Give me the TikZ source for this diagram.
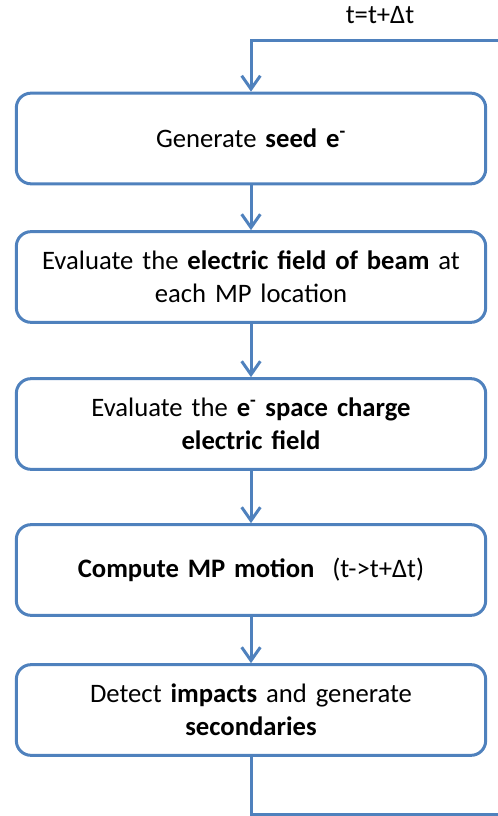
\documentclass[tikz,border=0pt]{standalone}
\usepackage{fontspec}
\setmainfont{Carlito}
\usetikzlibrary{arrows.meta}
\definecolor{flowblue}{RGB}{79,129,189}

\begin{document}
\begin{tikzpicture}[x = 0.75pt, y = -0.75pt,
        stage/.style = {draw = flowblue, line width = 2.25pt, rounded corners = 11pt,
            minimum width = 352pt, minimum height = 68pt, text width = 340pt,
            align = center, inner sep = 0pt, font = \fontsize{20}{24.5}\selectfont},
        flow/.style = {draw = flowblue, line width = 2.25pt,
            -{Straight Barb[length = 10pt, width = 14pt]}}]
    \useasboundingbox (0,0) rectangle (498,816);

    % Draw the steps of the loop:
    \node [stage] (seed) at (251,138.5) {Generate \textbf{seed e\textsuperscript{-}}};
    \node [stage] (beamfield) at (251,277) {Evaluate the \textbf{electric field of beam} at\\each MP location};
    \node [stage] (spacecharge) at (251,424) {Evaluate the \textbf{e\textsuperscript{-} space charge}\\\textbf{electric field}};
    \node [stage] (motion) at (251,570) {\textbf{Compute MP motion}\ \ (t->t+Δt)};
    \node [stage] (detect) at (251,710) {Detect \textbf{impacts} and generate\\\textbf{secondaries}};

    % Draw the arrows between the steps:
    \foreach \from/\to in {seed/beamfield, beamfield/spacecharge, spacecharge/motion, motion/detect}
        \draw [flow] (\from.south) -- (\to.north);

    % Draw the time step loop:
    \coordinate (loopbottom) at (500,814);
    \coordinate (looptop) at (500,41);
    \draw [flow] (detect.south) |- (loopbottom) -- (looptop) -| (seed.north);
    \node [font = \fontsize{20}{24.5}\selectfont] (tstep) at (380,15) {t=t+Δt};
\end{tikzpicture}
\end{document}
